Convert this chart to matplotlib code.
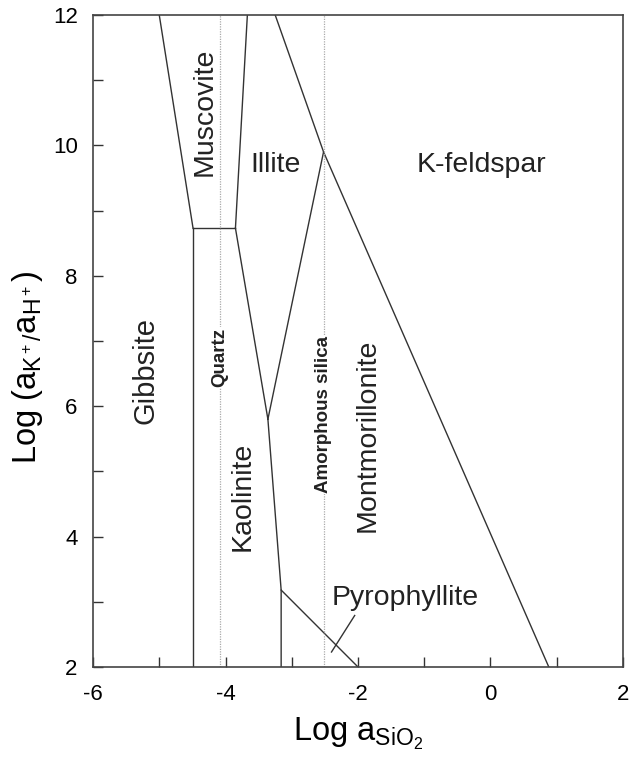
import matplotlib
matplotlib.use("Agg")
import matplotlib.pyplot as plt
from matplotlib.ticker import MultipleLocator

plt.rcParams['font.family'] = ['Liberation Sans', 'DejaVu Sans']
plt.rcParams['axes.unicode_minus'] = False
plt.rcParams['mathtext.fontset'] = 'custom'
plt.rcParams['mathtext.rm'] = 'Liberation Sans'
plt.rcParams['mathtext.it'] = 'Liberation Sans'

# Phase boundaries (log aSiO2, log aK+/aH+)
gib_mus_x = [-5.0, -4.49]
gib_mus_y = [12.0, 8.73]
gib_kao_x = [-4.49, -4.49]
gib_kao_y = [8.73, 2.0]
mus_kao_x = [-4.49, -3.85]
mus_kao_y = [8.73, 8.73]
mus_ill_x = [-3.85, -3.67]
mus_ill_y = [8.73, 12.0]
kao_ill_x = [-3.85, -3.36]
kao_ill_y = [8.73, 5.80]
ill_mon_x = [-3.36, -2.52]
ill_mon_y = [5.80, 9.90]
kfs_x = [-3.25, -2.52, 0.88]
kfs_y = [12.0, 9.90, 2.0]
kao_mon_x = [-3.36, -3.16, -3.16]
kao_mon_y = [5.80, 3.18, 2.0]
pyr_x = [-3.16, -2.0]
pyr_y = [3.18, 2.0]

quartz_x = -4.08
amorph_x = -2.52

fig = plt.figure(figsize=(6.31, 7.57), dpi=100)
ax = fig.add_axes([0.1474, 0.1189, 0.8399, 0.8613])

lc = '#333333'
for xs, ys in [(gib_mus_x, gib_mus_y), (gib_kao_x, gib_kao_y), (mus_kao_x, mus_kao_y),
               (mus_ill_x, mus_ill_y), (kao_ill_x, kao_ill_y), (ill_mon_x, ill_mon_y),
               (kfs_x, kfs_y), (kao_mon_x, kao_mon_y), (pyr_x, pyr_y)]:
    ax.plot(xs, ys, color=lc, lw=1.0)

for xv in [quartz_x, amorph_x]:
    ax.axvline(xv, color='#aaaaaa', lw=0.9, ls=(0, (1, 1)))

# Pyrophyllite pointer
ax.plot([-2.05, -2.40], [2.79, 2.23], color=lc, lw=1.0)

ax.set_xlim(-6, 2)
ax.set_ylim(2, 12)
ax.xaxis.set_major_locator(MultipleLocator(2))
ax.xaxis.set_minor_locator(MultipleLocator(1))
ax.yaxis.set_major_locator(MultipleLocator(2))
ax.yaxis.set_minor_locator(MultipleLocator(1))
ax.tick_params(which='both', direction='in', length=7, width=1, color=lc,
               top=False, right=False, labelsize=16)
ax.tick_params(axis='x', which='major', pad=12)
ax.tick_params(axis='y', which='major', pad=11)
for s in ax.spines.values():
    s.set_color('#444444')
    s.set_linewidth(1.2)

ax.set_xlabel(r'Log a$_{\mathregular{SiO_2}}$', fontsize=23.5, labelpad=8)
ax.set_ylabel(r'Log (a$_{\mathregular{K^+/}}$a$_{\mathregular{H^+}}$)', fontsize=23.5)
ax.yaxis.set_label_coords(-0.09, 0.46)

tc = '#222222'
fs = 20.5
ax.text(-4.32, 10.51, 'Muscovite', rotation=90, ha='center', va='center', fontsize=fs, color=tc)
ax.text(-3.24, 9.70, 'Illite', ha='center', va='center', fontsize=fs, color=tc)
ax.text(-0.13, 9.70, 'K-feldspar', ha='center', va='center', fontsize=fs, color=tc)
ax.text(-5.21, 6.55, 'Gibbsite', rotation=90, ha='center', va='center', fontsize=21, color=tc)
ax.text(-3.74, 4.62, 'Kaolinite', rotation=90, ha='center', va='center', fontsize=fs, color=tc)
ax.text(-1.86, 5.56, 'Montmorillonite', rotation=90, ha='center', va='center', fontsize=fs, color=tc)
ax.text(-2.40, 2.95, 'Pyrophyllite', ha='left', va='baseline', fontsize=fs, color=tc)
ax.text(quartz_x, 6.75, 'Quartz', rotation=90, ha='center', va='center', fontsize=13.5,
        fontweight='bold', color=tc,
        bbox=dict(facecolor='white', edgecolor='none', pad=0.5))
ax.text(amorph_x, 5.87, 'Amorphous silica', rotation=90, ha='center', va='center', fontsize=13.5,
        fontweight='bold', color=tc,
        bbox=dict(facecolor='white', edgecolor='none', pad=0.5))

fig.savefig('out.png', dpi=100)
